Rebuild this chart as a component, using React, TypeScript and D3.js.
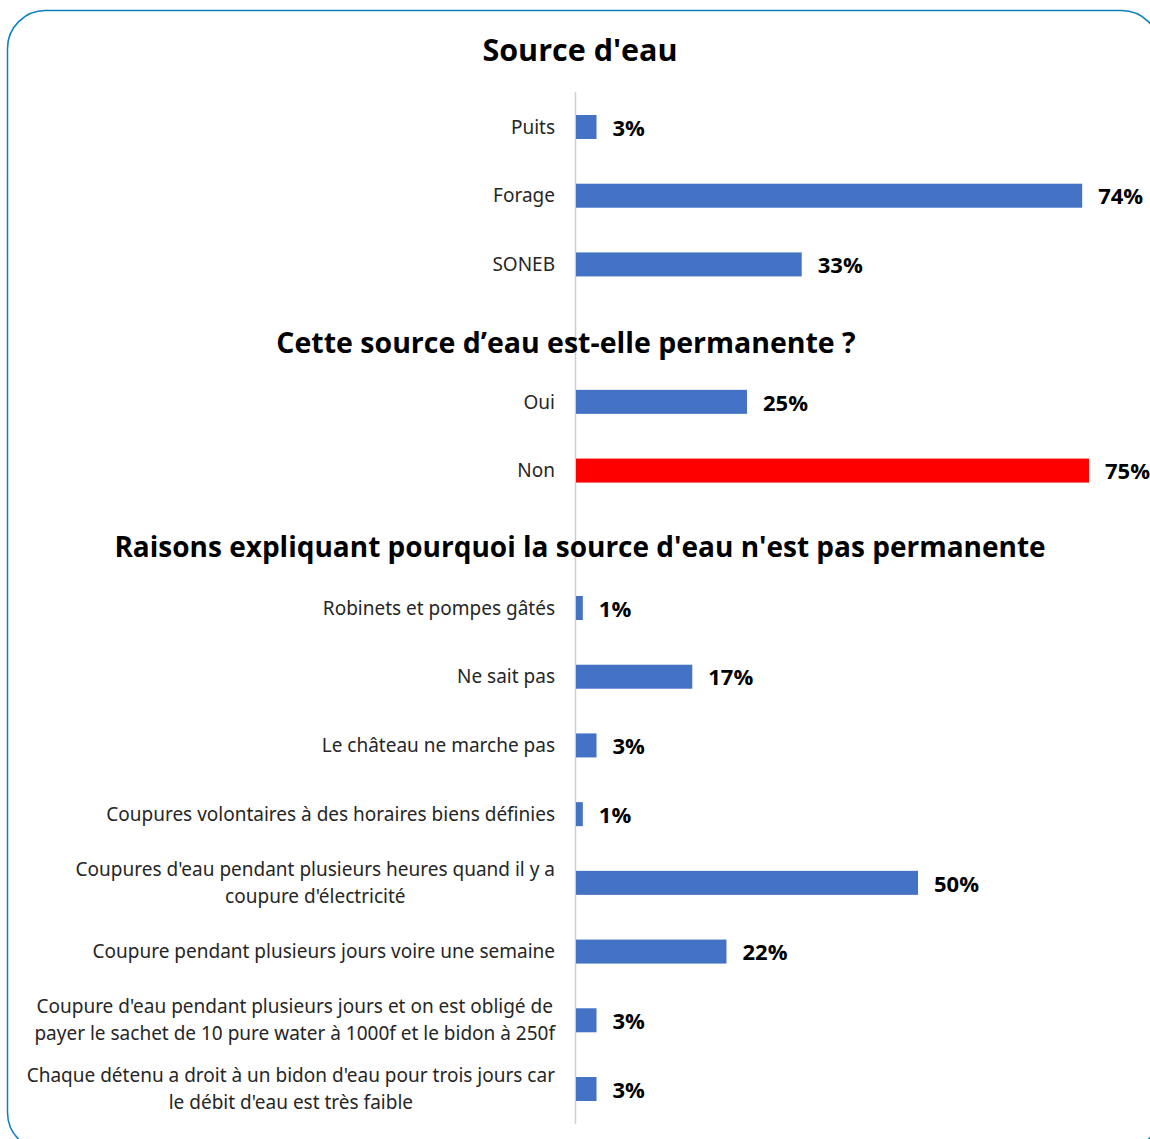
import React, { useEffect, useRef } from 'react';
import * as d3 from 'd3';

const sourceLabels = ['Puits', 'Forage', 'SONEB'];
const sourceValues = [3, 74, 33];

const permLabels = ['Oui', 'Non'];
const permValues = [25, 75];

const reasonLabels = [
  ['Robinets et pompes gâtés'],
  ['Ne sait pas'],
  ['Le château ne marche pas'],
  ['Coupures volontaires à des horaires biens définies'],
  ["Coupures d'eau pendant plusieurs heures quand il y a", "coupure d'électricité"],
  ['Coupure pendant plusieurs jours voire une semaine'],
  ["Coupure d'eau pendant plusieurs jours et on est obligé de", 'payer le sachet de 10 pure water à 1000f et le bidon à 250f'],
  ["Chaque détenu a droit à un bidon d'eau pour trois jours car", "le débit d'eau est très faible"],
];
const reasonValues = [1, 17, 3, 1, 50, 22, 3, 3];

const titles = [
  "Source d'eau",
  'Cette source d’eau est-elle permanente ?',
  "Raisons expliquant pourquoi la source d'eau n'est pas permanente",
];

const BLUE = '#4472c4';
const RED = '#ff0000';

const App = () => {
  const ref = useRef<SVGSVGElement | null>(null);

  useEffect(() => {
    if (!ref.current) return;
    const svg = d3.select(ref.current);
    svg.selectAll('*').remove();

    // rows: index positions with gaps for section titles
    const rows: { label: string[]; value: number; idx: number; color: string }[] = [];
    sourceLabels.forEach((l, i) => rows.push({ label: [l], value: sourceValues[i], idx: i, color: BLUE }));
    permLabels.forEach((l, i) => rows.push({ label: [l], value: permValues[i], idx: 4 + i, color: i === 1 ? RED : BLUE }));
    reasonLabels.forEach((l, i) => rows.push({ label: l, value: reasonValues[i], idx: 7 + i, color: BLUE }));

    const x = d3.scaleLinear().domain([0, 75]).range([576, 1089]);
    const y = d3.scaleLinear().domain([0, 14]).range([127, 1089]);
    const barH = 24;

    // frame
    svg
      .append('rect')
      .attr('x', 7.5)
      .attr('y', 10.5)
      .attr('width', 1152)
      .attr('height', 1140)
      .attr('rx', 38)
      .attr('fill', 'none')
      .attr('stroke', '#0b80c0')
      .attr('stroke-width', 1.5);

    // axis line
    svg
      .append('line')
      .attr('x1', x(0) - 0.5)
      .attr('x2', x(0) - 0.5)
      .attr('y1', 92)
      .attr('y2', 1124)
      .attr('stroke', '#d0d0d0')
      .attr('stroke-width', 1.5);

    // titles
    const titleY = [-1.12, 3.14, 6.11];
    const titleX = [580, 566, 580];
    const titleSize = [30.5, 28.5, 28];
    titles.forEach((t, i) => {
      svg
        .append('text')
        .attr('x', titleX[i])
        .attr('y', y(titleY[i]))
        .attr('dy', '0.35em')
        .attr('text-anchor', 'middle')
        .attr('font-family', 'Open Sans, sans-serif')
        .attr('font-weight', 'bold')
        .attr('font-size', titleSize[i])
        .attr('fill', '#000')
        .text(t);
    });

    const g = svg.append('g');
    g.selectAll('rect.bar')
      .data(rows)
      .enter()
      .append('rect')
      .attr('class', 'bar')
      .attr('x', x(0))
      .attr('y', (d) => y(d.idx) - barH / 2)
      .attr('width', (d) => x(d.value) - x(0))
      .attr('height', barH)
      .attr('fill', (d) => d.color);

    g.selectAll('text.val')
      .data(rows)
      .enter()
      .append('text')
      .attr('class', 'val')
      .attr('x', (d) => x(d.value) + 16)
      .attr('y', (d) => y(d.idx) + 1)
      .attr('dy', '0.35em')
      .attr('font-family', 'Open Sans, sans-serif')
      .attr('font-weight', 'bold')
      .attr('font-size', 22)
      .attr('fill', '#000')
      .text((d) => `${d.value}%`);

    rows.forEach((d) => {
      const n = d.label.length;
      const t = g
        .append('text')
        .attr('class', 'lab')
        .attr('x', 555)
        .attr('y', y(d.idx) - ((n - 1) * 27) / 2)
        .attr('text-anchor', n > 1 ? 'middle' : 'end')
        .attr('font-family', 'Noto Sans, sans-serif')
        .attr('font-size', 19)
        .attr('fill', '#262626');
      d.label.forEach((line, j) => {
        t.append('tspan')
          .attr('x', 555)
          .attr('dy', j === 0 ? '0.35em' : 27)
          .text(line);
      });
    });

    // center multi-line labels on their longest line, right-aligned block
    g.selectAll<SVGTextElement, unknown>('text.lab').each(function () {
      const el = this as SVGTextElement;
      if (el.getAttribute('text-anchor') !== 'middle') return;
      const spans = Array.from(el.querySelectorAll('tspan')) as SVGTSpanElement[];
      const maxW = d3.max(spans, (s) => s.getComputedTextLength()) || 0;
      const cx = 555 - maxW / 2;
      spans.forEach((s) => s.setAttribute('x', String(cx)));
    });
  }, []);

  return (
    <svg
      ref={ref}
      width={1150}
      height={1139}
      style={{ position: 'absolute', left: 0, top: 0, background: '#fff' }}
    />
  );
};

export default App;
